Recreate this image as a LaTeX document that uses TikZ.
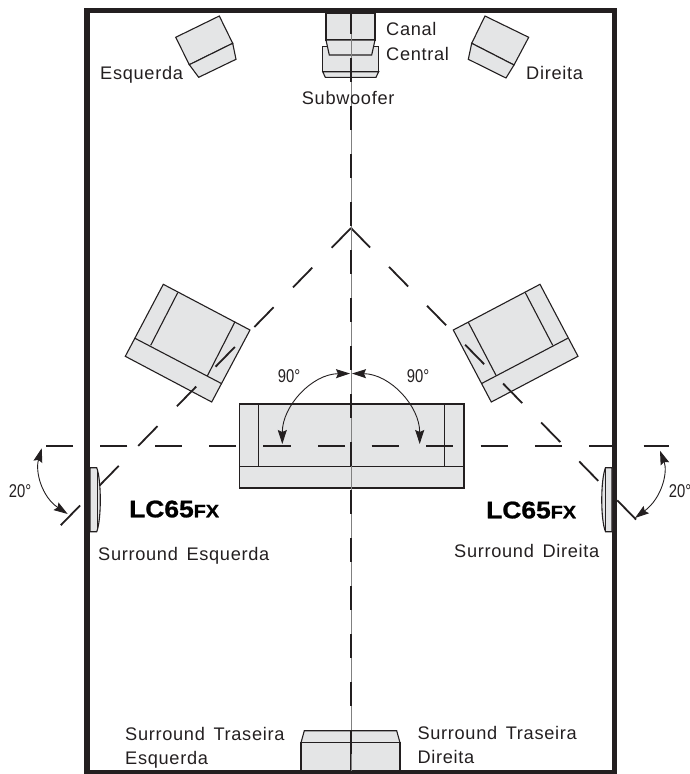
\documentclass[tikz,border=0pt]{standalone}
\usepackage{fontspec}
\setmainfont[LetterSpace=3.8,WordSpace=1.5]{Liberation Sans}
\newfontfamily\lcfont[FakeStretch=1.1,FakeBold=1]{Liberation Sans}
\newfontfamily\degfont[FakeStretch=0.8]{Liberation Sans}
\usepackage{tikz}
\usetikzlibrary{arrows.meta}
\definecolor{boxgray}{HTML}{E4E5E6}
\definecolor{inkblack}{HTML}{231F20}
\tikzset{
  box/.style={draw=inkblack,fill=boxgray,line width=1.1pt},
  inkline/.style={draw=inkblack,line width=1.1pt},
  sightline/.style={draw=inkblack,line width=1.8pt,dash pattern=on 27.3pt off 27.1pt},
  diagline/.style={draw=inkblack,line width=1.8pt,dash pattern=on 27.6pt off 27.8pt},
  anglearc/.style={draw=inkblack,line width=0.9pt,<->},
  label/.style={anchor=base west,inner sep=0pt,text=inkblack,font=\fontsize{18.2}{20}\selectfont},
  angletext/.style={inner sep=0pt,text=inkblack,font=\degfont\fontsize{18.5}{20}\selectfont},
  modeltext/.style={anchor=base west,inner sep=0pt,text=black}
}
\begin{document}
\begin{tikzpicture}[x=1pt,y=-1pt,>={Stealth[length=14pt,width=9pt,inset=2pt]},line join=miter]
\useasboundingbox (0,0) rectangle (690,774);
% room
\draw[draw=inkblack,line width=5.6pt] (87,10.5) rectangle (614.5,773);
% front speakers
\draw[box] (219.3,16) -- (175.7,37.3) -- (189.3,64.7) -- (232.7,43.3) -- cycle;
\draw[box] (189.3,64.7) -- (198.7,77.3) -- (236,59.3) -- (232.7,43.3) -- cycle;
\draw[box] (485,16) -- (528.7,37.3) -- (514,65) -- (471.7,43.3) -- cycle;
\draw[box] (471.7,43.3) -- (468.3,59.3) -- (506,78) -- (514,65) -- cycle;
% subwoofer and centre channel
\draw[box] (322.7,46.7) rectangle (378.7,71.7);
\draw[box] (322.7,71.7) -- (325.3,77.3) -- (376,77.3) -- (378.7,71.7) -- cycle;
\draw[box] (326,13) rectangle (375,40);
\draw[box] (326,40) -- (375,40) -- (371.7,55) -- (329.3,55) -- cycle;
% chairs
\draw[box] (163.3,284.3) -- (250,330) -- (211.7,402) -- (125.3,356.3) -- cycle;
\draw[inkline] (135,338.3) -- (221,383.3);
\draw[inkline] (177.7,292.7) -- (150.7,345.3);
\draw[inkline] (235,321.7) -- (207.3,376);
\draw[box] (540,284.3) -- (453.3,330) -- (491.3,402) -- (578,356.3) -- cycle;
\draw[inkline] (567.7,338.3) -- (482,383.3);
\draw[inkline] (525.3,292.7) -- (552.7,345.3);
\draw[inkline] (468.3,322.3) -- (496,375.3);
% sofa
\draw[box] (239.7,404) rectangle (464,488);
\draw[inkline] (239.7,466.7) -- (464,466.7);
\draw[inkline] (258.3,404) -- (258.3,466.7);
\draw[inkline] (444.3,404) -- (444.3,466.7);
% side speakers
\draw[box] (90,467.7) -- (96.7,467.7) .. controls (101.5,480) and (101.5,520) .. (96.7,531.7) -- (90,531.7) -- cycle;
\draw[inkline] (97.7,470) -- (97.7,530);
\draw[box] (612,467.7) -- (605.5,467.7) .. controls (600.5,480) and (600.5,520) .. (605.5,531.7) -- (612,531.7) -- cycle;
\draw[inkline] (605.5,467.7) -- (605.5,531.7);
% rear speakers
\draw[box] (304.3,730.7) -- (396.7,730.7) -- (400,742.7) -- (301,742.7) -- cycle;
\draw[box] (301,742.7) rectangle (400,771);
\draw[draw=inkblack,line width=2.2pt] (351,730.7) -- (351,771);
% listening lines
\coordinate (apex) at (351,228);
\coordinate (leftend) at (60.7,525.3);
\coordinate (rightend) at (636,519.5);
\coordinate (sightL) at (345,445.7);
\coordinate (sightLend) at (45.4,445.7);
\coordinate (sightR) at (371.7,445.7);
\coordinate (sightRend) at (668.7,445.7);
\draw[diagline] (apex) -- (leftend);
\draw[sightline] (apex) -- (rightend);
\draw[sightline] (sightL) -- (sightLend);
\draw[sightline] (sightR) -- (sightRend);
\coordinate (axistop) at (351,10);
\coordinate (axisbot) at (351,771);
\draw[draw=gray,line width=1pt] (axistop) -- (axisbot);
\draw[draw=inkblack,line width=2.4pt,dash pattern=on 24pt off 24pt] (axistop) -- (axisbot);
% angles
\draw[anglearc] (282.3,444) .. controls (282.3,405.9) and (312,374) .. (350,373.5);
\draw[anglearc] (419.7,444) .. controls (419.7,405.9) and (390,374) .. (352,373.5);
\draw[anglearc] (41.7,448.3) .. controls (35,472) and (42,497) .. (67.7,514);
\draw[anglearc] (660,450.7) .. controls (668,472) and (662,498) .. (635,518);
\node[angletext] (ang90L) at (289,376) {90°};
\node[angletext] (ang90R) at (418,376) {90°};
\node[angletext] (ang20L) at (20,490.7) {20°};
\node[angletext] (ang20R) at (680,490.7) {20°};
% labels
\node[label] (esq) at (100,79) {Esquerda};
\node[label] (dir) at (526,79) {Direita};
\node[label] (canal) at (386,35.7) {Canal};
\node[label] (central) at (386,60) {Central};
\node[label] (sub) at (301.7,104.3) {Subwoofer};
\node[modeltext] (lcL) at (129,517.3) {\lcfont\bfseries\fontsize{24}{26}\selectfont LC65\fontsize{18}{20}\selectfont FX};
\node[modeltext] (lcR) at (486,518.3) {\lcfont\bfseries\fontsize{24}{26}\selectfont LC65\fontsize{18}{20}\selectfont FX};
\node[label] (surL) at (98,560) {Surround Esquerda};
\node[label] (surR) at (454,557.7) {Surround Direita};
\node[label] (rearL1) at (125,740) {Surround Traseira};
\node[label] (rearL2) at (125,764) {Esquerda};
\node[label] (rearR1) at (417.3,739.3) {Surround Traseira};
\node[label] (rearR2) at (417.3,763.3) {Direita};
\end{tikzpicture}
\end{document}
